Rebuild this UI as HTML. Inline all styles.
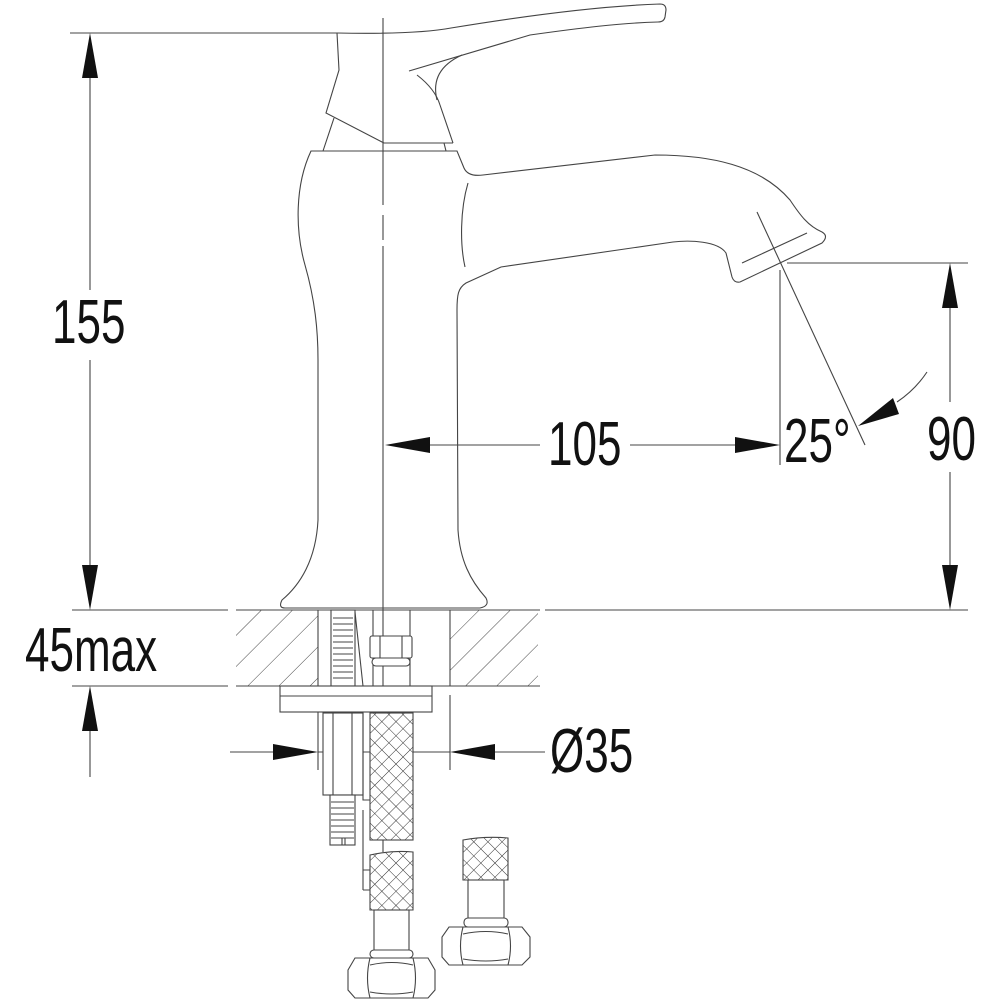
<!DOCTYPE html>
<html><head><meta charset="utf-8"><style>
html,body{margin:0;padding:0;background:#fff;}
svg{display:block;}
text{font-family:"Liberation Sans",sans-serif;font-size:62px;fill:#111;}
</style></head><body>
<svg width="1000" height="1000" viewBox="0 0 1000 1000" xmlns="http://www.w3.org/2000/svg">
<defs>
<pattern id="h" width="22" height="22" patternUnits="userSpaceOnUse" patternTransform="rotate(45)">
<line x1="0" y1="0" x2="0" y2="22" stroke="#444" stroke-width="1"/>
</pattern>
<pattern id="x" width="10" height="10" patternUnits="userSpaceOnUse" patternTransform="rotate(45)">
<rect width="10" height="10" fill="#fff"/>
<line x1="0" y1="0" x2="10" y2="0" stroke="#333" stroke-width="1"/>
<line x1="0" y1="0" x2="0" y2="10" stroke="#333" stroke-width="1"/>
</pattern>
</defs>
<g fill="none" stroke="#444" stroke-width="1.1">
<line x1="383" y1="18" x2="383" y2="205"/>
<line x1="383" y1="215" x2="383" y2="240"/>
<line x1="383" y1="246" x2="383" y2="700"/>
<!-- handle -->
<path d="M337,33 C390,34 430,32 451,28 C530,15 600,6 660,4 Q666,4 666,10 L665,17 Q664,22 658,22 C620,23 580,28 530,35 L409,71"/>
<path d="M462,55 C440,65 432,80 437,100"/>
<path d="M417,75 C430,85 437,95 440,105 L453,143"/>
<path d="M337,33 L339,70 L326,113 L384,143 L453,143"/>
<path d="M334,118 L323,151 M444,143 L446,151"/>
<!-- body -->
<path d="M457,151 L311,151 C295,185 295,230 305,265 C315,300 318,330 318,360 L318,520 C316,560 300,585 282,600 Q278,608 285,608 L480,608 Q490,606 486,598 C470,580 460,560 458,530 L457,310 C457,295 458,288 466,283 L501,267 L673,242 C690,240 718,241 726,253 L732,277 Q734,283 740,282 L822,243 Q829,236 822,232 C808,226 800,215 790,200 C760,165 710,155 655,155 L483,175 Q468,177 464,168 Z"/>
<path d="M468,183 C460,210 460,245 465,267"/>
<path d="M742,263 L807,233"/>
<line x1="757" y1="212" x2="865" y2="445"/>
<line x1="780" y1="270" x2="780" y2="465"/>
<line x1="787" y1="263" x2="968" y2="263"/>
<!-- extension lines -->
<line x1="70" y1="33" x2="337" y2="33"/>
<line x1="72" y1="610" x2="228" y2="610"/>
<line x1="236" y1="610" x2="540" y2="610"/>
<line x1="545" y1="610" x2="968" y2="610"/>
<line x1="72" y1="686" x2="228" y2="686"/>
<line x1="236" y1="686" x2="540" y2="686"/>
<!-- dimension lines -->
<line x1="90" y1="75" x2="90" y2="290"/>
<line x1="90" y1="360" x2="90" y2="570"/>
<line x1="90" y1="730" x2="90" y2="777"/>
<line x1="428" y1="445" x2="540" y2="445"/>
<line x1="630" y1="445" x2="737" y2="445"/>
<line x1="950" y1="305" x2="950" y2="402"/>
<line x1="950" y1="472" x2="950" y2="568"/>
<line x1="230" y1="752" x2="275" y2="752"/>
<line x1="318" y1="752" x2="450" y2="752"/>
<line x1="492" y1="752" x2="545" y2="752"/>
<line x1="318" y1="700" x2="318" y2="770"/>
<line x1="450" y1="695" x2="450" y2="770"/>
<path d="M897,402 Q915,390 927,372"/>
<!-- hatch boxes -->
<rect x="236" y="610" width="82" height="76" fill="url(#h)" stroke="none"/>
<rect x="450" y="610" width="88" height="76" fill="url(#h)" stroke="none"/>
<line x1="318" y1="610" x2="318" y2="686"/>
<line x1="450" y1="610" x2="450" y2="686"/>
<rect x="331" y="610" width="24" height="76" fill="#fff"/>
<path d="M333,618 h20 M333,624 h20 M333,630 h20 M333,636 h20 M333,642 h20 M333,648 h20 M333,654 h20 M333,660 h20 M333,666 h20 M333,672 h20 M333,678 h20"/>
<line x1="355" y1="612" x2="363" y2="686"/>
<line x1="373" y1="610" x2="373" y2="686"/>
<line x1="410" y1="610" x2="410" y2="686"/>
<rect x="370" y="636" width="42" height="22" rx="2" fill="#fff"/>
<line x1="380" y1="636" x2="380" y2="658"/><line x1="402" y1="636" x2="402" y2="658"/>
<rect x="372" y="658" width="38" height="8" rx="4" fill="#fff"/>
<rect x="280" y="686" width="152" height="26" fill="#fff"/>
<line x1="280" y1="696" x2="432" y2="696"/>
<rect x="323" y="713" width="40" height="82" fill="#fff"/>
<line x1="333" y1="713" x2="333" y2="795"/><line x1="352" y1="713" x2="352" y2="795"/>
<rect x="330" y="795" width="25" height="50" fill="#fff"/>
<path d="M331,802 h23 M331,808 h23 M331,814 h23 M331,820 h23 M331,826 h23 M331,832 h23 M331,838 h23"/>
<line x1="342" y1="838" x2="342" y2="845"/><line x1="345" y1="838" x2="345" y2="845"/>
<path d="M363,713 L363,800 L370,800"/>
<path d="M363,810 L363,890 M363,870 h7 v20 h-7"/>
<rect x="370" y="713" width="43" height="127" fill="url(#x)"/>
<path d="M370,855 Q392,850 413,852 L413,910 L370,910 Z" fill="url(#x)"/>
<line x1="383" y1="840" x2="383" y2="852"/>
<rect x="374" y="910" width="35" height="42" fill="#fff"/>
<rect x="370" y="950" width="43" height="8" rx="4" fill="#fff"/>
<path d="M355,958 H428 L435,970 V990 L428,998 H355 L348,990 V970 Z" fill="#fff"/>
<path d="M370,958 Q365,978 370,998 M413,958 Q418,978 413,998 M370,965 Q392,960 413,965 M370,992 Q392,996 413,992"/>
<path d="M463,840 Q485,836 508,838 L508,880 L463,880 Z" fill="url(#x)"/>
<rect x="468" y="880" width="36" height="40" fill="#fff"/>
<rect x="464" y="918" width="44" height="9" rx="4" fill="#fff"/>
<path d="M449,927 H522 L530,937 V957 L522,965 H449 L442,957 V937 Z" fill="#fff"/>
<path d="M463,927 Q458,946 463,965 M508,927 Q513,946 508,965 M463,934 Q486,929 508,934 M463,959 Q486,963 508,959"/>
</g>
<g fill="#111">
<polygon points="90,33 82,78 98,78"/>
<polygon points="90,610 82,565 98,565"/>
<polygon points="90,686 82,731 98,731"/>
<polygon points="385,445 430,437 430,453"/>
<polygon points="780,445 735,437 735,453"/>
<polygon points="950,263 942,308 958,308"/>
<polygon points="950,610 942,565 958,565"/>
<polygon points="318,752 273,744 273,760"/>
<polygon points="450,752 495,744 495,760"/>
<polygon points="858,426 893,398 899,414"/>
</g>
<text transform="translate(52,343) scale(0.71,1)">155</text>
<text transform="translate(25,671) scale(0.71,1)">45max</text>
<text transform="translate(548,465) scale(0.71,1)">105</text>
<text transform="translate(784,462) scale(0.71,1)">25°</text>
<text transform="translate(927,460) scale(0.71,1)">90</text>
<text transform="translate(550,772) scale(0.71,1)">Ø35</text>
</svg>
</body></html>
